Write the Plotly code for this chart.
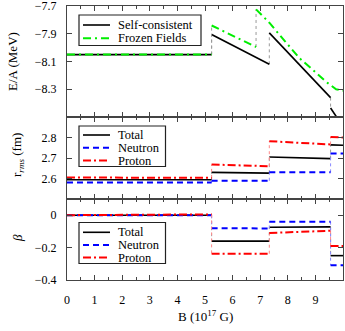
import plotly.graph_objects as go
from plotly.subplots import make_subplots

# ---------------- data ----------------
# Top panel: E/A (MeV) vs B (10^17 G), piecewise segments
sc_x = [[0, 5.24], [5.24, 7.33], [7.33, 9.55], [9.55, 9.8]]
sc_y = [[-8.05, -8.05], [-7.905, -8.12], [-7.893, -8.36], [-8.435, -8.51]]
ff_x = [[0, 5.24], [5.24, 6.85], [6.85, 7.33, 7.9, 8.42, 9.0, 9.38, 9.75, 10.0]]
ff_y = [[-8.05, -8.05], [-7.84, -7.995],
        [-7.724, -7.82, -7.954, -8.075, -8.177, -8.245, -8.30, -8.31]]

# Middle / bottom panels share the same step boundaries
step_x = [[0, 5.24], [5.24, 7.33], [7.33, 9.55], [9.55, 10.0]]
# r_rms (fm)
r_total = [[2.594, 2.594], [2.63, 2.626], [2.705, 2.697], [2.764, 2.762]]
r_neutron = [[2.58, 2.58], [2.589, 2.589], [2.63, 2.63], [2.722, 2.722]]
r_proton = [[2.605, 2.603], [2.668, 2.66], [2.782, 2.766], [2.803, 2.80]]
# beta
b_total = [[0.0, 0.0], [-0.16, -0.16], [-0.075, -0.072], [-0.25, -0.25]]
b_neutron = [[0.0, 0.0], [-0.08, -0.082], [-0.04, -0.04], [-0.31, -0.31]]
b_proton = [[0.0, 0.005], [-0.238, -0.238], [-0.11, -0.096], [-0.19, -0.19]]

x_ticks = list(range(0, 10))
e_ticks = [-7.7, -7.9, -8.1, -8.3]
r_ticks = [2.6, 2.7, 2.8]
b_ticks = [0, -0.2, -0.4]

FONT = "Liberation Serif"
AX = "#444444"

L, R, T, Bm = 67, 2, 6, 51
W, H = 345, 331
pw, ph = W - L - R, H - T - Bm


def px(xp):
    return (xp - L) / pw


def py(yp):
    return (H - Bm - yp) / ph


def join(xs, ys):
    X, Y = [], []
    for sx, sy in zip(xs, ys):
        X += list(sx) + [None]
        Y += list(sy) + [None]
    return X, Y


def connectors(xs, ys):
    X, Y = [], []
    for i in range(len(xs) - 1):
        X += [xs[i + 1][0], xs[i + 1][0], None]
        Y += [ys[i][-1], ys[i + 1][0], None]
    return X, Y


fig = make_subplots(rows=3, cols=1, shared_xaxes=True, vertical_spacing=0,
                    row_heights=[111, 82, 81])

legend_items = {1: [], 2: [], 3: []}


def add_series(xs, ys, row, name, color, dash, width, conn_color):
    cx, cy = connectors(xs, ys)
    fig.add_trace(go.Scatter(x=cx, y=cy, mode="lines", showlegend=False,
                             line=dict(color=conn_color, width=1, dash="dot"),
                             hoverinfo="skip"), row=row, col=1)
    X, Y = join(xs, ys)
    fig.add_trace(go.Scatter(x=X, y=Y, mode="lines", name=name, showlegend=False,
                             line=dict(color=color, width=width, dash=dash)),
                  row=row, col=1)
    legend_items[row].append((name, color, dash, width))


GREEN_DASH = "8px,4px,2px,4px"
BLUE_DASH = "6px,4px"
RED_DASH = "8px,3px,2px,3px"

add_series(sc_x, sc_y, 1, "Self-consistent", "black", "solid", 1.6, "#999999")
add_series(ff_x, ff_y, 1, "Frozen Fields", "#00ee00", GREEN_DASH, 2, "#999999")

add_series(step_x, r_total, 2, "Total", "black", "solid", 1.6, "#999999")
add_series(step_x, r_neutron, 2, "Neutron", "#0000ff", BLUE_DASH, 2, "#8888ff")
add_series(step_x, r_proton, 2, "Proton", "#ff0000", RED_DASH, 2, "#ff8888")

add_series(step_x, b_total, 3, "Total", "black", "solid", 1.6, "#999999")
add_series(step_x, b_neutron, 3, "Neutron", "#0000ff", BLUE_DASH, 2, "#8888ff")
add_series(step_x, b_proton, 3, "Proton", "#ff0000", RED_DASH, 2, "#ff8888")

xcommon = dict(range=[0, 10], showline=True, mirror="ticks", linecolor=AX, linewidth=1.3,
               ticks="inside", ticklen=5, tickcolor=AX, tickwidth=1, automargin=False,
               tickvals=x_ticks, showgrid=False, zeroline=False, ticklabeloverflow="allow",
               minor=dict(dtick=0.5, ticklen=3, ticks="inside", tickcolor=AX, showgrid=False))
fig.update_xaxes(**xcommon)
fig.update_xaxes(showticklabels=False, row=1, col=1)
fig.update_xaxes(showticklabels=False, row=2, col=1)
fig.update_xaxes(showticklabels=True, ticklabelstandoff=8, row=3, col=1)

ycommon = dict(showline=True, mirror="ticks", linecolor=AX, linewidth=1.3,
               ticks="inside", ticklen=5, tickcolor=AX, tickwidth=1, automargin=False,
               showgrid=False, zeroline=False, ticklabelstandoff=7, ticklabeloverflow="allow")
fig.update_yaxes(**ycommon)
fig.update_yaxes(range=[-8.5, -7.6995], tickvals=e_ticks, tickformat=".1f", row=1, col=1)
fig.update_yaxes(range=[2.5, 2.9], tickvals=r_ticks, tickformat=".1f", row=2, col=1)
fig.update_yaxes(range=[-0.4005, 0.1], tickvals=b_ticks, ticktext=["0", "−0.2", "−0.4"], row=3, col=1)

# ---- hand-drawn legend boxes (gnuplot style) ----
shapes, annotations = [], []
legend_boxes = {1: (79, 201, 15, 45.5, [25, 38.3]),
                2: (79, 165.5, 126, 166.5, [135, 147.8, 160.6]),
                3: (79, 165.5, 222.5, 263.5, [232.3, 245, 257.5])}
for row, (x0, x1, y0, y1, ys) in legend_boxes.items():
    shapes.append(dict(type="rect", xref="paper", yref="paper", x0=px(x0), x1=px(x1),
                       y0=py(y1), y1=py(y0), line=dict(color="#222222", width=1.2),
                       fillcolor="white", layer="above"))
    for (name, color, dash, width), yy in zip(legend_items[row], ys):
        shapes.append(dict(type="line", xref="paper", yref="paper", x0=px(83), x1=px(110),
                           y0=py(yy), y1=py(yy), layer="above",
                           line=dict(color=color, width=width, dash=dash)))
        annotations.append(dict(text=name, x=px(116), y=py(yy), xref="paper", yref="paper",
                                xanchor="left", yanchor="middle", showarrow=False,
                                font=dict(family=FONT, size=12.5, color="black")))

annotations += [
    dict(text="E/A (MeV)", x=px(13), y=py(62), xref="paper", yref="paper",
         xanchor="center", yanchor="middle",
         textangle=-90, showarrow=False, font=dict(family=FONT, size=13)),
    dict(text="r<sub><i>rms</i></sub> (fm)", x=px(18), y=py(155), xref="paper", yref="paper",
         xanchor="center", yanchor="middle",
         textangle=-90, showarrow=False, font=dict(family=FONT, size=13)),
    dict(text="<i>β</i>", x=px(17), y=py(238), xref="paper", yref="paper",
         xanchor="center", yanchor="middle",
         textangle=-90, showarrow=False, font=dict(family=FONT, size=13)),
    dict(text="B (10<sup>17</sup> G)", x=px(205), y=py(316), xref="paper", yref="paper",
         xanchor="center", yanchor="middle",
         showarrow=False, font=dict(family=FONT, size=13)),
]

fig.update_layout(
    width=W, height=H, margin=dict(l=L, r=R, t=T, b=Bm, autoexpand=False),
    paper_bgcolor="white", plot_bgcolor="white", showlegend=False,
    font=dict(family=FONT, size=12, color="black"),
    shapes=shapes, annotations=annotations,
)

fig.write_html("out.html", config={"displayModeBar": False},
               post_script="document.body.style.margin='0';document.body.style.overflow='hidden';")
